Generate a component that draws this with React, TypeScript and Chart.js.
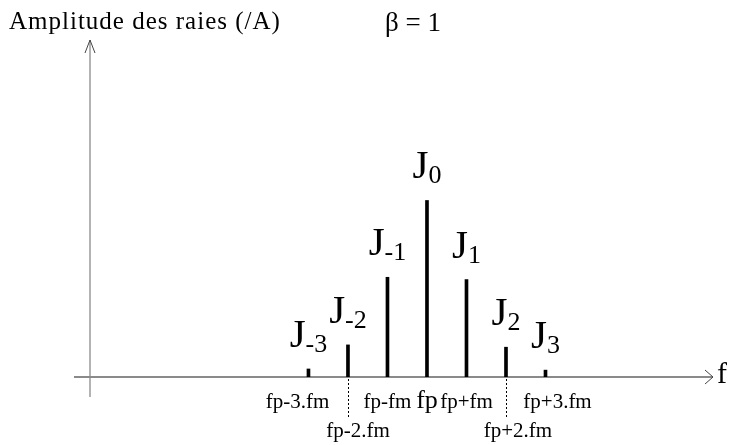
import { useEffect, useRef } from "react";
import { Chart, registerables } from "chart.js";

Chart.register(...registerables);

// Spectral line orders n (line at fp + n.fm) and their relative amplitudes for β = 1
const orders = [-3, -2, -1, 0, 1, 2, 3];
const amplitudes = [0.035, 0.14, 0.435, 0.77, 0.425, 0.13, 0.03];
const lineSubscripts = ["-3", "-2", "-1", "0", "1", "2", "3"];
const freqLabels = ["fp-3.fm", "fp-2.fm", "fp-fm", "fp", "fp+fm", "fp+2.fm", "fp+3.fm"];
const yTitle = "Amplitude des raies (/A)";
const betaText = "β = 1";
const xTitle = "f";

const SERIF = '"Liberation Serif", "Times New Roman", serif';

// Horizontal nudges for the frequency labels so neighbours do not collide
const labelShift: Record<number, number> = { [-3]: -11, [-2]: 10, 2: 12, 3: 12 };

const spectrumPlugin = {
  id: "spectrumDiagram",
  beforeDatasetsDraw(chart: any) {
    const { ctx, chartArea: a, scales } = chart;
    const y0 = scales.y.getPixelForValue(0);
    ctx.save();
    // frequency axis
    ctx.strokeStyle = "#8a8a8a";
    ctx.lineWidth = 2;
    ctx.beginPath();
    ctx.moveTo(a.left - 16, y0);
    ctx.lineTo(a.right, y0);
    ctx.stroke();
    // amplitude axis
    ctx.lineWidth = 1.3;
    ctx.beginPath();
    ctx.moveTo(a.left, y0 + 20);
    ctx.lineTo(a.left, a.top);
    ctx.stroke();
    // open arrow heads
    ctx.strokeStyle = "#444";
    ctx.lineWidth = 1;
    ctx.beginPath();
    ctx.moveTo(a.left - 5, a.top + 13);
    ctx.lineTo(a.left, a.top);
    ctx.lineTo(a.left + 5, a.top + 13);
    ctx.stroke();
    ctx.beginPath();
    ctx.moveTo(a.right - 8, y0 - 7);
    ctx.lineTo(a.right, y0);
    ctx.lineTo(a.right - 8, y0 + 7);
    ctx.stroke();
    // dotted leaders down to the second-row labels
    ctx.strokeStyle = "#000";
    ctx.setLineDash([2, 2]);
    orders.forEach((n) => {
      if (Math.abs(n) !== 2) return;
      const x = Math.round(scales.x.getPixelForValue(n)) + 0.5;
      ctx.beginPath();
      ctx.moveTo(x, y0 + 2);
      ctx.lineTo(x, y0 + 42);
      ctx.stroke();
    });
    ctx.restore();
  },
  afterDatasetsDraw(chart: any) {
    const { ctx, chartArea: a, scales } = chart;
    const meta = chart.getDatasetMeta(0);
    const y0 = scales.y.getPixelForValue(0);
    ctx.save();
    ctx.fillStyle = "#000";
    ctx.textBaseline = "alphabetic";

    // J_n names above each line
    meta.data.forEach((bar: any, i: number) => {
      const bigFont = `41px ${SERIF}`;
      const subFont = `26px ${SERIF}`;
      ctx.font = bigFont;
      const wJ = ctx.measureText("J").width;
      ctx.font = subFont;
      const wS = ctx.measureText(lineSubscripts[i]).width;
      const start = bar.x - (wJ + wS) / 2;
      const base = bar.y - 22;
      ctx.textAlign = "left";
      ctx.font = bigFont;
      ctx.fillText("J", start, base);
      ctx.font = subFont;
      ctx.fillText(lineSubscripts[i], start + wJ, base + 5);
    });

    // frequency labels under the axis
    ctx.textAlign = "center";
    orders.forEach((n, i) => {
      const x = scales.x.getPixelForValue(n) + (labelShift[n] || 0);
      const second = Math.abs(n) === 2;
      ctx.font = n === 0 ? `26px ${SERIF}` : `21px ${SERIF}`;
      ctx.fillText(freqLabels[i], x, y0 + (second ? 60 : 31));
    });

    // axis titles
    ctx.textAlign = "left";
    ctx.font = `25px ${SERIF}`;
    (ctx as any).letterSpacing = "1px";
    ctx.fillText(yTitle, 9, 29);
    (ctx as any).letterSpacing = "0px";
    ctx.font = `27px ${SERIF}`;
    ctx.fillText(betaText, 385, 31);
    ctx.font = `30px ${SERIF}`;
    ctx.fillText(xTitle, a.right + 4, y0 + 6);
    ctx.restore();
  },
};

export default function App() {
  const canvasRef = useRef<HTMLCanvasElement | null>(null);

  useEffect(() => {
    const canvas = canvasRef.current;
    if (!canvas) return;
    const chart = new Chart(canvas, {
      type: "bar",
      data: {
        datasets: [
          {
            data: orders.map((n, i) => ({ x: n, y: amplitudes[i] })),
            backgroundColor: "#000",
            borderWidth: 0,
            barThickness: 3,
          },
        ],
      },
      options: {
        responsive: false,
        animation: false,
        layout: { padding: { left: 90, right: 18, top: 40, bottom: 68 } },
        plugins: {
          legend: { display: false },
          tooltip: { enabled: false },
          title: { display: false },
        },
        scales: {
          x: { type: "linear", min: -8.53, max: 7.24, offset: false, display: false },
          y: { type: "linear", min: 0, max: 1.47, display: false },
        },
      },
      plugins: [spectrumPlugin],
    } as any);
    return () => chart.destroy();
  }, []);

  return (
    <div style={{ position: "fixed", left: 0, top: 0, width: 731, height: 445, background: "#fff" }}>
      <canvas ref={canvasRef} width={731} height={445} style={{ display: "block" }} />
    </div>
  );
}
